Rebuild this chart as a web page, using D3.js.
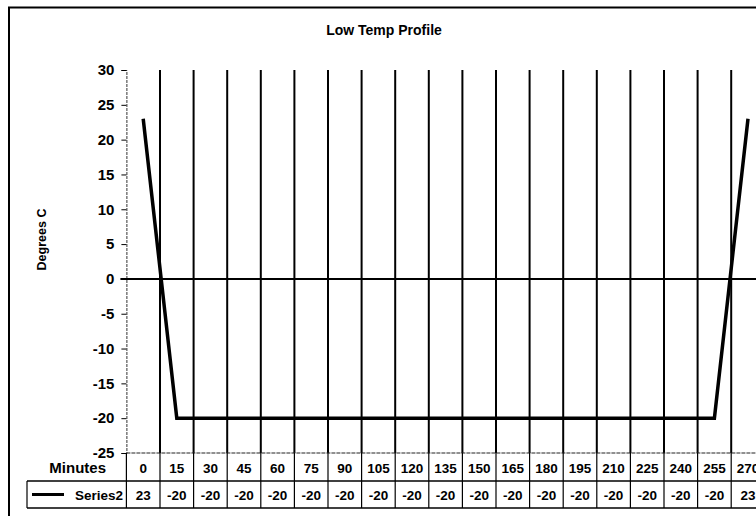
<!DOCTYPE html>
<html>
<head>
<meta charset="utf-8">
<script src="https://cdn.jsdelivr.net/npm/d3@7/dist/d3.min.js"></script>
<style>
  html, body { margin: 0; padding: 0; background: #fff; }
  svg { display: block; }
  text { font-family: "Liberation Sans", Arial, sans-serif; font-weight: bold; fill: #000; }
</style>
</head>
<body>
<svg id="chart" width="756" height="516"></svg>
<script>
// Low temperature cycle: minutes and chamber set point (°C)
const minutes = [0, 15, 30, 45, 60, 75, 90, 105, 120, 135, 150, 165, 180, 195, 210, 225, 240, 255, 270];
const series2 = [23, -20, -20, -20, -20, -20, -20, -20, -20, -20, -20, -20, -20, -20, -20, -20, -20, -20, 23];
const yTicks = [30, 25, 20, 15, 10, 5, 0, -5, -10, -15, -20, -25];
const seriesName = "Series2";
const chartTitle = "Low Temp Profile";
const yTitle = "Degrees C";
const xTitle = "Minutes";

const svg = d3.select("#chart");

const plotLeft = 126.4, bandW = 33.6;
const plotTop = 70, plotBottom = 453;
const row1Bottom = 481, row2Bottom = 508;

const x = d3.scaleBand()
  .domain(minutes)
  .range([plotLeft, plotLeft + bandW * minutes.length])
  .paddingInner(0).paddingOuter(0);

const y = d3.scaleLinear().domain([-25, 30]).range([plotBottom, plotTop]);

// plain hyphen for negative numbers
const fmt = d => String(d);

// chart frame
svg.append("path")
  .attr("d", `M9,516 V7.5 H756`)
  .attr("fill", "none").attr("stroke", "#000").attr("stroke-width", 2);

// title
svg.append("text")
  .attr("x", 384).attr("y", 35)
  .attr("text-anchor", "middle")
  .style("font-size", "14px")
  .text(chartTitle);

// y axis title
svg.append("text")
  .attr("transform", `translate(46,${(plotTop + plotBottom) / 2 - 22}) rotate(-90)`)
  .attr("text-anchor", "middle")
  .style("font-size", "12.5px")
  .text(yTitle);

// vertical category gridlines (band boundaries)
const bounds = minutes.slice(1).map(m => x(m));
svg.append("g").selectAll("line").data(bounds).join("line")
  .attr("x1", d => d).attr("x2", d => d)
  .attr("y1", plotTop).attr("y2", plotBottom)
  .attr("stroke", "#000").attr("stroke-width", 2);

// y axis
const yAxis = d3.axisLeft(y).tickValues(yTicks).tickFormat(fmt).tickSize(5).tickPadding(7);
const gy = svg.append("g").attr("transform", `translate(${plotLeft},0)`).call(yAxis);
gy.select(".domain").attr("stroke", "#333").attr("stroke-dasharray", "3,1").attr("stroke-width", 1);
gy.selectAll(".tick line").attr("stroke", "#000");
gy.selectAll(".tick text")
  .style("font-family", "'Liberation Sans', Arial, sans-serif")
  .style("font-weight", "bold")
  .style("font-size", "15px")
  .attr("fill", "#000");

// zero line
svg.append("line")
  .attr("x1", plotLeft - 6).attr("x2", 756)
  .attr("y1", y(0)).attr("y2", y(0))
  .attr("stroke", "#000").attr("stroke-width", 2);

// data line
const line = d3.line()
  .x((d, i) => x(minutes[i]) + x.bandwidth() / 2)
  .y(d => y(d));
svg.append("path")
  .datum(series2)
  .attr("d", line)
  .attr("fill", "none")
  .attr("stroke", "#000")
  .attr("stroke-width", 3.5)
  .attr("stroke-linejoin", "miter");

// data table
const table = svg.append("g");
const tableRight = 756;
table.append("line")
  .attr("x1", plotLeft).attr("x2", tableRight)
  .attr("y1", plotBottom).attr("y2", plotBottom)
  .attr("stroke", "#222").attr("stroke-width", 1.2).attr("stroke-dasharray", "4,1");
table.append("line")
  .attr("x1", 27).attr("x2", tableRight)
  .attr("y1", row1Bottom).attr("y2", row1Bottom)
  .attr("stroke", "#000").attr("stroke-width", 1.5);
table.append("line")
  .attr("x1", 27).attr("x2", tableRight)
  .attr("y1", row2Bottom).attr("y2", row2Bottom)
  .attr("stroke", "#000").attr("stroke-width", 1.5);
table.selectAll("line.cell").data([plotLeft].concat(bounds)).join("line")
  .attr("class", "cell")
  .attr("x1", d => d).attr("x2", d => d)
  .attr("y1", plotBottom).attr("y2", row2Bottom)
  .attr("stroke", "#000").attr("stroke-width", 1.2);
table.append("line")
  .attr("x1", 27).attr("x2", 27)
  .attr("y1", row1Bottom).attr("y2", row2Bottom)
  .attr("stroke", "#000").attr("stroke-width", 1.2);

// row labels
table.append("text")
  .attr("x", 106).attr("y", row1Bottom - 8)
  .attr("text-anchor", "end")
  .style("font-size", "15px")
  .text(xTitle);
table.append("line")
  .attr("x1", 32).attr("x2", 64)
  .attr("y1", (row1Bottom + row2Bottom) / 2).attr("y2", (row1Bottom + row2Bottom) / 2)
  .attr("stroke", "#000").attr("stroke-width", 3);
table.append("text")
  .attr("x", 123).attr("y", row2Bottom - 8)
  .attr("text-anchor", "end")
  .style("font-size", "13.5px")
  .text(seriesName);

// category values
table.selectAll("text.cat").data(minutes).join("text")
  .attr("class", "cat")
  .attr("x", d => x(d) + x.bandwidth() / 2)
  .attr("y", row1Bottom - 8)
  .attr("text-anchor", "middle")
  .style("font-size", "13.5px")
  .text(fmt);

// series values
table.selectAll("text.val").data(series2).join("text")
  .attr("class", "val")
  .attr("x", (d, i) => x(minutes[i]) + x.bandwidth() / 2)
  .attr("y", row2Bottom - 8)
  .attr("text-anchor", "middle")
  .style("font-size", "13.5px")
  .text(fmt);
</script>
</body>
</html>
